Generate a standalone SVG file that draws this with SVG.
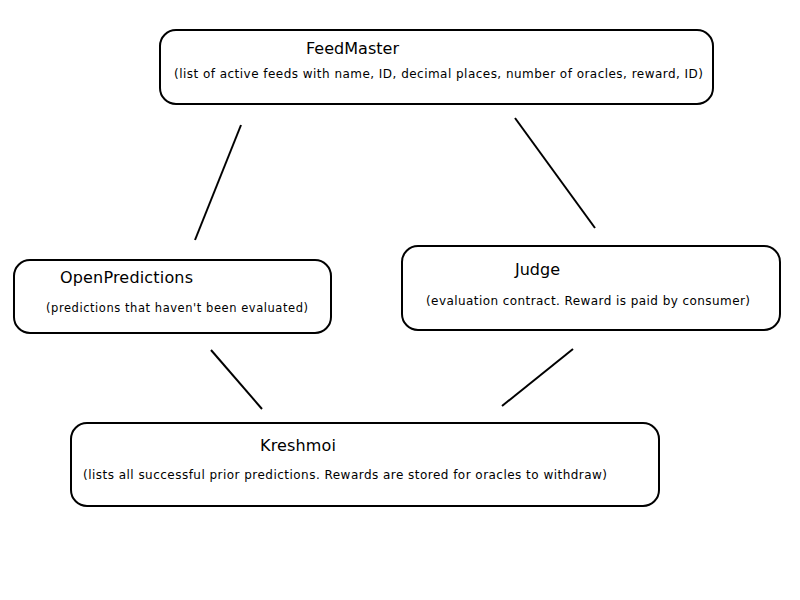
<svg xmlns="http://www.w3.org/2000/svg" width="800" height="600" viewBox="0 0 800 600">
<style>
.box{fill:#fff;stroke:#000;stroke-width:2}
.t{font-family:"DejaVu Sans",sans-serif;font-size:16px;fill:#000}
.d{font-family:"DejaVu Sans",sans-serif;font-size:12px;fill:#000}
.c line{stroke:#000;stroke-width:2}
</style>
<rect width="800" height="600" fill="#fff"/>
<g class="c" id="connectors">
<line x1="241" y1="125" x2="195" y2="240"/>
<line x1="515" y1="118" x2="595" y2="228"/>
<line x1="211" y1="350" x2="262" y2="409"/>
<line x1="573" y1="349" x2="502" y2="406"/>
</g>
<g id="feedmaster">
<rect class="box" x="160" y="30" width="553" height="74" rx="16"/>
<text class="t" x="306" y="54" textLength="93" lengthAdjust="spacing">FeedMaster</text>
<text class="d" x="174" y="78" textLength="529" lengthAdjust="spacing">(list of active feeds with name, ID, decimal places, number of oracles, reward, ID)</text>
</g>
<g id="openpredictions">
<rect class="box" x="14" y="260" width="317" height="73" rx="16"/>
<text class="t" x="60" y="283" textLength="133" lengthAdjust="spacing">OpenPredictions</text>
<text class="d" x="46" y="312" style="font-size:11.5px" textLength="262" lengthAdjust="spacing">(predictions that haven't been evaluated)</text>
</g>
<g id="judge">
<rect class="box" x="402" y="246" width="378" height="84" rx="16"/>
<text class="t" x="515" y="275" textLength="45" lengthAdjust="spacing">Judge</text>
<text class="d" x="426" y="305" textLength="324" lengthAdjust="spacing">(evaluation contract. Reward is paid by consumer)</text>
</g>
<g id="kreshmoi">
<rect class="box" x="71" y="423" width="588" height="83" rx="16"/>
<text class="t" x="260" y="451" textLength="76" lengthAdjust="spacing">Kreshmoi</text>
<text class="d" x="83" y="479" textLength="524" lengthAdjust="spacing">(lists all successful prior predictions. Rewards are stored for oracles to withdraw)</text>
</g>
</svg>
